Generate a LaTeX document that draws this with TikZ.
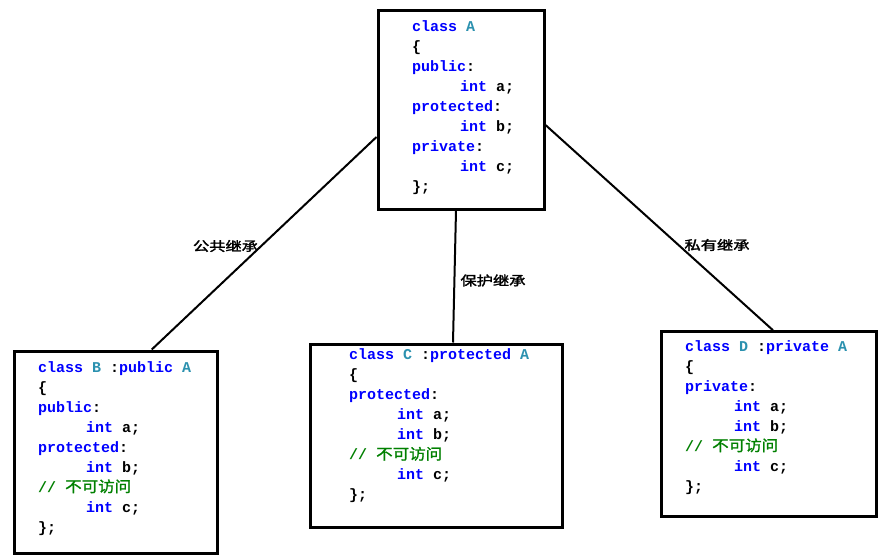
\documentclass[tikz,border=0pt]{standalone}
\usepackage{fontspec}
\usepackage{graphicx}
\setmonofont{Liberation Mono}
\newfontfamily\cjkb[FakeBold=2]{Noto Sans CJK SC}
\newfontfamily\cjkc[FakeBold=1.2]{Noto Sans CJK SC}
\definecolor{kwc}{RGB}{0,0,255}
\definecolor{clsc}{RGB}{43,145,175}
\definecolor{cmtc}{RGB}{0,128,0}
\newcommand{\kwd}[1]{\textcolor{kwc}{#1}}
\newcommand{\cnm}[1]{\textcolor{clsc}{#1}}
\newcommand{\cmtz}{\textcolor{cmtc}{//~\scalebox{1.1}[1]{\cjkc\mdseries\fontsize{15}{15}\selectfont 不可访问}}}
\newcommand{\codeln}[4]{\node[codeline] (#1) at (#2,#3) {#4};}
\tikzset{
  box/.style={draw, line width=3pt, inner sep=0pt},
  codeline/.style={anchor=base west, inner sep=0pt, font=\ttfamily\bfseries\fontsize{15}{15}\selectfont},
  link/.style={line width=2pt},
  lbl/.style={inner sep=0pt, font=\cjkb\fontsize{13}{13}\selectfont}
}
\begin{document}
\begin{tikzpicture}[x=1pt,y=-1pt]
\useasboundingbox[fill=white] (0,0) rectangle (887,560);
% boxes
\node[box, minimum width=166pt, minimum height=199pt] (A) at (461,109.5) {};
\node[box, minimum width=202.5pt, minimum height=202pt] (B) at (115.75,452) {};
\node[box, minimum width=252pt, minimum height=183pt] (C) at (436,435.5) {};
\node[box, minimum width=214.5pt, minimum height=184.5pt] (D) at (769,424) {};
% connectors
\draw[link] ([yshift=-27.5pt]A.west) -- ([xshift=36pt]B.north);
\draw[link] ([xshift=-5pt]A.south) -- ([xshift=17pt]C.north);
\draw[link] ([yshift=-15.5pt]A.east) -- ([xshift=4pt]D.north);
% labels
\node[lbl] (lb) at (225.5,246) {\scalebox{1.25}[1]{公共继承}};
\node[lbl] (lc) at (493,280.5) {\scalebox{1.25}[1]{保护继承}};
\node[lbl] (ld) at (717,245) {\scalebox{1.25}[1]{私有继承}};
% class A
\codeln{a1}{412}{31}{\kwd{class} \cnm{A}}
\codeln{a2}{412}{51}{\{}
\codeln{a3}{412}{71}{\kwd{public}:}
\codeln{a4}{460}{91}{\kwd{int} a;}
\codeln{a5}{412}{111}{\kwd{protected}:}
\codeln{a6}{460}{131}{\kwd{int} b;}
\codeln{a7}{412}{151}{\kwd{private}:}
\codeln{a8}{460}{171}{\kwd{int} c;}
\codeln{a9}{412}{191}{\};}
% class B
\codeln{b1}{38}{372}{\kwd{class} \cnm{B} :\kwd{public} \cnm{A}}
\codeln{b2}{38}{392}{\{}
\codeln{b3}{38}{412}{\kwd{public}:}
\codeln{b4}{86}{432}{\kwd{int} a;}
\codeln{b5}{38}{452}{\kwd{protected}:}
\codeln{b6}{86}{472}{\kwd{int} b;}
\codeln{b7}{38}{492}{\cmtz}
\codeln{b8}{86}{512}{\kwd{int} c;}
\codeln{b9}{38}{532}{\};}
% class C
\codeln{c1}{349}{359.5}{\kwd{class} \cnm{C} :\kwd{protected} \cnm{A}}
\codeln{c2}{349}{379.5}{\{}
\codeln{c3}{349}{399.5}{\kwd{protected}:}
\codeln{c4}{397}{419.5}{\kwd{int} a;}
\codeln{c5}{397}{439.5}{\kwd{int} b;}
\codeln{c6}{349}{459.5}{\cmtz}
\codeln{c7}{397}{479.5}{\kwd{int} c;}
\codeln{c8}{349}{499.5}{\};}
% class D
\codeln{d1}{685}{351}{\kwd{class} \cnm{D} :\kwd{private} \cnm{A}}
\codeln{d2}{685}{371}{\{}
\codeln{d3}{685}{391}{\kwd{private}:}
\codeln{d4}{734}{411}{\kwd{int} a;}
\codeln{d5}{734}{431}{\kwd{int} b;}
\codeln{d6}{685}{451}{\cmtz}
\codeln{d7}{734}{471}{\kwd{int} c;}
\codeln{d8}{685}{491}{\};}
\end{tikzpicture}
\end{document}
